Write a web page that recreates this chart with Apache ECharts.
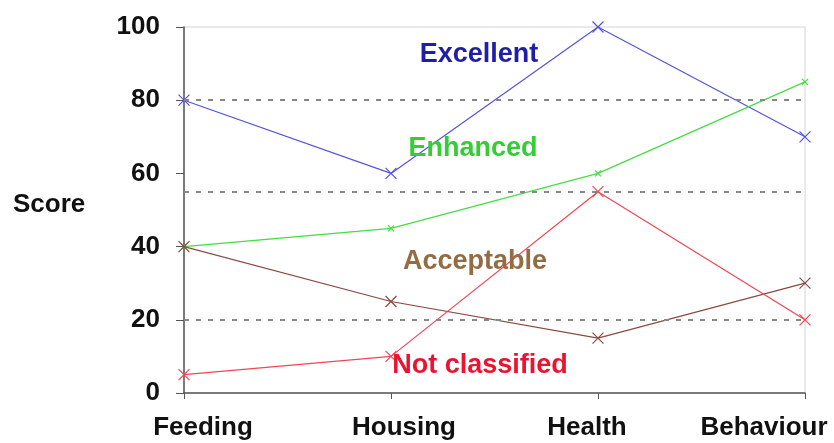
<!DOCTYPE html>
<html>
<head>
<meta charset="utf-8">
<script src="https://cdn.jsdelivr.net/npm/echarts@6/dist/echarts.min.js"></script>
<style>
html,body{margin:0;padding:0;background:#fff;}
#c{width:834px;height:443px;}
</style>
</head>
<body>
<div id="c"></div>
<script>
const categories = ['Feeding', 'Housing', 'Health', 'Behaviour'];
const excellent = [80, 60, 100, 70];
const enhanced = [40, 45, 60, 85];
const acceptable = [40, 25, 15, 30];
const notClassified = [5, 10, 55, 20];
const thresholds = [80, 55, 20];
const yTicks = [0, 20, 40, 60, 80, 100];

// label padding (layout only) to mimic the original label placement
const labelPadding = [[0, 0, 0, 38], [0, 0, 0, 26], [0, 22, 0, 0], [0, 82, 0, 0]];

const FONT = 'Liberation Sans, Arial, sans-serif';
const X_SYMBOL = 'path://M0,0L10,10M10,0L0,10';

function lineSeries(name, data, color, size) {
  return {
    name: name,
    type: 'line',
    data: data,
    symbol: X_SYMBOL,
    symbolSize: size,
    lineStyle: { color: color, width: 1.2 },
    itemStyle: { color: color, borderColor: color, borderWidth: 1.2 },
    animation: false,
    z: 3
  };
}

const chart = echarts.init(document.getElementById('c'));
const series = [
  lineSeries('Excellent', excellent, '#5454dc', 11),
  lineSeries('Enhanced', enhanced, '#44dd44', 6),
  lineSeries('Acceptable', acceptable, '#8a4a42', 11),
  lineSeries('Not classified', notClassified, '#f04656', 11)
];
series[0].markLine = {
  silent: true,
  symbol: ['none', 'none'],
  label: { show: false },
  lineStyle: { color: '#888', type: [5, 7], width: 2 },
  data: thresholds.map(v => ({ yAxis: v })),
  animation: false
};

chart.setOption({
  backgroundColor: '#fff',
  animation: false,
  grid: { left: 184, right: 29, top: 27, bottom: 50, show: true, borderColor: '#d4d4d4', borderWidth: 1,
    outerBoundsMode: 'none', containLabel: false },
  xAxis: {
    type: 'category',
    data: categories.map((c, i) => ({ value: c, textStyle: { padding: labelPadding[i] } })),
    boundaryGap: false,
    axisLine: { lineStyle: { color: '#555', width: 1.5 } },
    axisTick: { show: true, alignWithLabel: true, length: 6, lineStyle: { color: '#555' } },
    axisLabel: { fontFamily: FONT, fontWeight: 'bold', fontSize: 26, color: '#111', margin: 22,
      showMaxLabel: true, showMinLabel: true, interval: 0 },
    splitLine: { show: false }
  },
  yAxis: {
    type: 'value',
    min: 0, max: 100, interval: 20,
    axisLine: { show: true, lineStyle: { color: '#555', width: 1.5 } },
    axisTick: { show: true, length: 8, lineStyle: { color: '#555' } },
    axisLabel: { fontFamily: FONT, fontWeight: 'bold', fontSize: 26, color: '#111', margin: 24,
      formatter: v => yTicks.includes(v) ? String(v) : '' },
    splitLine: { show: false }
  },
  series: series,
  graphic: [
    { type: 'text', x: 13, y: 205, style: { text: 'Score', font: 'bold 26px ' + FONT, fill: '#111', verticalAlign: 'middle' } },
    { type: 'text', x: 479, y: 55, style: { text: 'Excellent', font: 'bold 27px ' + FONT, fill: '#1e1ea6', align: 'center', verticalAlign: 'middle' }, z: 10 },
    { type: 'text', x: 473, y: 149, style: { text: 'Enhanced', font: 'bold 27px ' + FONT, fill: '#36cc36', align: 'center', verticalAlign: 'middle' }, z: 10 },
    { type: 'text', x: 475, y: 262, style: { text: 'Acceptable', font: 'bold 27px ' + FONT, fill: '#946c44', align: 'center', verticalAlign: 'middle' }, z: 10 },
    { type: 'text', x: 480, y: 366, style: { text: 'Not classified', font: 'bold 27px ' + FONT, fill: '#ea1430', align: 'center', verticalAlign: 'middle' }, z: 10 }
  ]
});
</script>
</body>
</html>
